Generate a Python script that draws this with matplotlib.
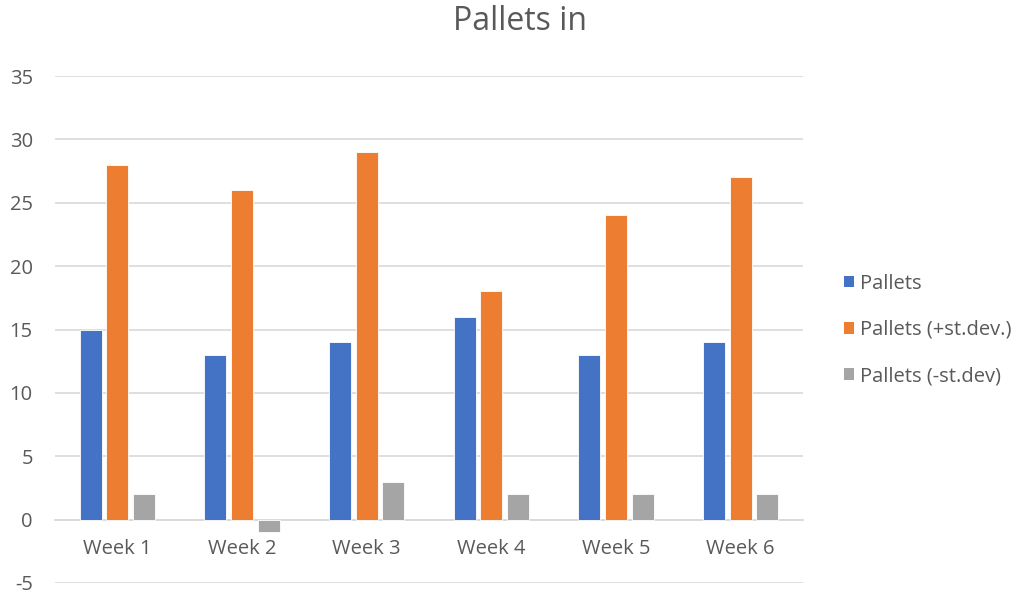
import matplotlib.pyplot as plt
import numpy as np
from matplotlib.patches import Patch

plt.rcParams["font.family"] = ["Open Sans", "DejaVu Sans"]
plt.rcParams["axes.unicode_minus"] = False

WEEKS = ["Week 1", "Week 2", "Week 3", "Week 4", "Week 5", "Week 6"]
PALLETS = [15, 13, 14, 16, 13, 14]
PALLETS_PLUS = [28, 26, 29, 18, 24, 27]
PALLETS_MINUS = [2, -1, 3, 2, 2, 2]

SERIES = [
    ("Pallets", PALLETS, "#4472c4"),
    ("Pallets (+st.dev.)", PALLETS_PLUS, "#ed7d31"),
    ("Pallets (-st.dev)", PALLETS_MINUS, "#a5a5a5"),
]
TEXT_COLOR = "#595959"
GRID_COLOR = "#d9d9d9"
FONT_SIZE = 14.5

fig = plt.figure(figsize=(10.27, 5.97), dpi=100)
ax = fig.add_axes([55 / 1027, 14 / 597, 748 / 1027, 507 / 597])

x = np.arange(len(WEEKS))
width = 0.176
step = 0.213
for i, (name, values, color) in enumerate(SERIES):
    ax.bar(x + (i - 1) * step, values, width, color=color,
           edgecolor="white", linewidth=0.6, zorder=3)

ax.set_xlim(-0.5, len(WEEKS) - 0.5)
ax.set_ylim(-5, 35)
ax.set_yticks(range(-5, 36, 5))
ax.yaxis.grid(True, color=GRID_COLOR, linewidth=1.2, zorder=0)
ax.tick_params(axis="y", length=0, pad=16, labelsize=FONT_SIZE, labelcolor=TEXT_COLOR)

# category axis sits on the zero line
ax.spines["bottom"].set_position(("data", 0))
ax.spines["bottom"].set_color(GRID_COLOR)
ax.spines["bottom"].set_linewidth(1.2)
for side in ("top", "right", "left"):
    ax.spines[side].set_visible(False)
ax.set_xticks(x)
ax.set_xticklabels(WEEKS)
ax.tick_params(axis="x", length=0, pad=14, labelsize=FONT_SIZE, labelcolor=TEXT_COLOR)

fig.text(520 / 1027, 1 - 22 / 597, "Pallets in", ha="center", va="center",
         fontsize=23, color=TEXT_COLOR)

handles = [Patch(facecolor=c, edgecolor="none", label=n) for n, _, c in SERIES]
fig.legend(handles=handles, loc="center left", bbox_to_anchor=(826 / 1027, 1 - 330 / 597),
           frameon=False, fontsize=FONT_SIZE, labelcolor=TEXT_COLOR, handlelength=0.5,
           handleheight=0.5, handletextpad=0.3, labelspacing=1.3)

fig.savefig("out.png", dpi=100)
